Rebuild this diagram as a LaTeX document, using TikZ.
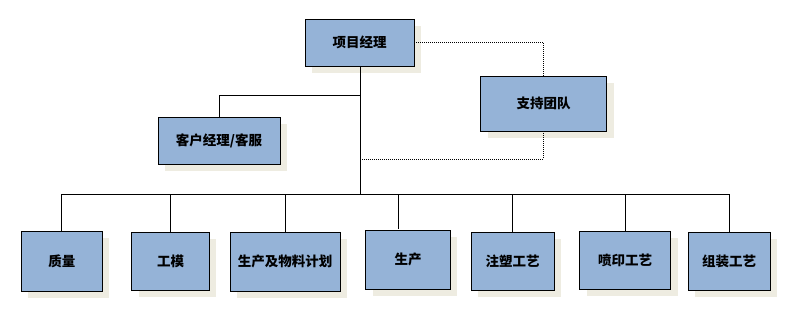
\documentclass[tikz,border=0pt]{standalone}
\usepackage{fontspec}
\newfontfamily\cjk{Noto Sans CJK SC}
\usetikzlibrary{shadows}
\definecolor{boxfill}{HTML}{95B3D7}
\definecolor{shadowc}{HTML}{EEECE1}
\begin{document}
\begin{tikzpicture}[x=1pt,y=-1pt,
  box/.style={draw=black, line width=0.9pt, fill=boxfill, inner sep=0pt,
    font=\cjk\bfseries\fontsize{13.5}{15}\selectfont,
    drop shadow={shadow xshift=7pt, shadow yshift=-7pt, fill=shadowc, opacity=1}},
  conn/.style={draw=black, line width=0.8pt},
  dotconn/.style={draw=black, line width=0.9pt, dash pattern=on 1pt off 1pt}]
\useasboundingbox (0,0) rectangle (789,315);
\node[box, minimum width=109pt, minimum height=47pt] (pm) at (359.5,42.5) {项目经理};
\node[box, minimum width=126pt, minimum height=55pt] (sup) at (543.5,103.5) {支持团队};
\node[box, minimum width=122pt, minimum height=47pt] (kh) at (219,140.5) {客户经理/客服};
\node[box, minimum width=81pt, minimum height=60pt] (zl) at (61.75,261) {质量};
\node[box, minimum width=77.5pt, minimum height=58pt] (gm) at (170.5,261) {工模};
\node[box, minimum width=110pt, minimum height=59pt] (jh) at (285,261.5) {生产及物料计划};
\node[box, minimum width=84.5pt, minimum height=59pt] (sc) at (408,259.5) {生产};
\node[box, minimum width=83pt, minimum height=58pt] (zs) at (512.5,261) {注塑工艺};
\node[box, minimum width=91pt, minimum height=58pt] (py) at (625,260) {喷印工艺};
\node[box, minimum width=82pt, minimum height=58pt] (zz) at (729,261) {组装工艺};
\coordinate (top) at (360,66);
\coordinate (j1) at (360,95);
\coordinate (bus) at (360,194.3);
\coordinate (d1) at (361.5,159);
\coordinate (scn) at (398.3,229);
\draw[conn] (top) -- (bus);
\draw[conn] (j1) -| (kh.north);
\draw[conn] (zl.north) |- (bus) -| (zz.north);
\draw[conn] (gm.north) -- (gm.north |- bus);
\draw[conn] (jh.north) -- (jh.north |- bus);
\draw[conn] (scn) -- (scn |- bus);
\draw[conn] (zs.north) -- (zs.north |- bus);
\draw[conn] (py.north) -- (py.north |- bus);
\draw[dotconn] (pm.east) -| (sup.north);
\draw[dotconn] (sup.south) |- (d1);
\end{tikzpicture}
\end{document}
